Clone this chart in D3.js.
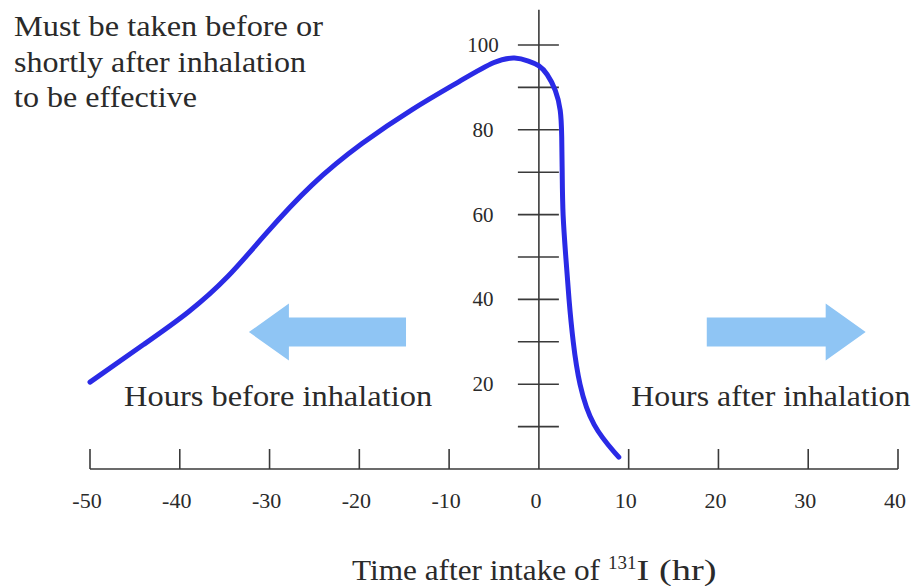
<!DOCTYPE html>
<html>
<head>
<meta charset="utf-8">
<script src="https://cdn.jsdelivr.net/npm/d3@7"></script>
<style>
    body { margin: 0; background: #fff; }
    svg { display: block; font-family: 'Liberation Serif', 'Times New Roman', serif; }
</style>
</head>
<body>
<svg id="chart"></svg>
<script>
// curve: hours after intake vs. effectiveness (%)
const hours = [-50, -43.8, -39, -34.5, -30.8, -25.3, -19.7, -14.1, -8.6, -4.8, -2.6, -1.1, 0, 0.9, 1.9, 2.45, 2.55, 2.6, 2.65, 3.0, 3.34, 3.79, 4.45, 5.9, 8.9]
const effect = [20.5, 29.7, 36.8, 45.3, 54.7, 67.5, 77, 85, 91.7, 96.5, 97.2, 96.2, 95.3, 93.4, 89.4, 84.7, 79.2, 69, 60, 50, 40, 30, 20, 10, 2.8]

const xTicks = [-50, -40, -30, -20, -10, 0, 10, 20, 30, 40]
const yMinor = [10, 30, 50, 70, 90]
const yMajor = [20, 40, 60, 80, 100]

const noteLines = ['Must be taken before or', 'shortly after inhalation', 'to be effective']
const noteWidths = [309, 292, 183]
const arrows = [
    { from: -14.8, to: -32.3, level: 32.3, label: 'Hours before inhalation', at: -46.2, len: 308 },
    { from: 18.7, to: 36.4, level: 32.3, label: 'Hours after inhalation', at: 10.3, len: 279 }
]

const width = 920, height = 586
const svg = d3.select('#chart').attr('width', width).attr('height', height)

const x = d3.scaleLinear().domain([-50, 40]).range([90, 898])
const y = d3.scaleLinear().domain([0, 100]).range([469, 45])

const axisColor = '#3a3a3a'
const textColor = '#2a2a2a'

// x axis: baseline with ticks pointing up
const xAxis = svg.append('g').attr('transform', `translate(0,${y(0)})`)
xAxis.append('line')
    .attr('x1', x(-50)).attr('x2', x(40))
    .attr('stroke', axisColor).attr('stroke-width', 1.6)
xAxis.selectAll('.xt').data(xTicks.filter(d => d !== 0)).enter().append('line')
    .attr('x1', d => x(d)).attr('x2', d => x(d))
    .attr('y1', 0).attr('y2', -20)
    .attr('stroke', axisColor).attr('stroke-width', 1.6)
xAxis.selectAll('text').data(xTicks).enter().append('text')
    .attr('x', d => x(d) - 3)
    .attr('y', 39)
    .attr('text-anchor', 'middle')
    .attr('font-size', 22)
    .attr('fill', textColor)
    .text(d => d)

// y axis: vertical line at hour 0 with ticks crossing it
const yAxis = svg.append('g').attr('transform', `translate(${x(0)},0)`)
yAxis.append('line')
    .attr('y1', y(0)).attr('y2', y(108.3))
    .attr('stroke', axisColor).attr('stroke-width', 1.6)
yAxis.selectAll('.yt').data(yMinor.concat(yMajor)).enter().append('line')
    .attr('x1', -21).attr('x2', 20)
    .attr('y1', d => y(d)).attr('y2', d => y(d))
    .attr('stroke', axisColor).attr('stroke-width', 1.6)
yAxis.selectAll('text').data(yMajor).enter().append('text')
    .attr('x', -56)
    .attr('y', d => y(d))
    .attr('dy', '0.33em')
    .attr('text-anchor', 'middle')
    .attr('font-size', 21)
    .attr('fill', textColor)
    .text(d => d)

// light blue direction arrows
const arrowPath = ({ from, to, level }) => {
    const dir = Math.sign(to - from)
    const tip = x(to), tail = x(from), cy = y(level)
    const base = tip - dir * 40
    const shaft = 14.5, head = 28.5
    return `M${tail},${cy - shaft} L${base},${cy - shaft} L${base},${cy - head} L${tip},${cy}
            L${base},${cy + head} L${base},${cy + shaft} L${tail},${cy + shaft} Z`
}
svg.selectAll('.arrow').data(arrows).enter().append('path')
    .attr('d', arrowPath)
    .attr('fill', '#8fc5f4')

svg.selectAll('.arrow-label').data(arrows).enter().append('text')
    .attr('x', d => x(d.at))
    .attr('y', 406)
    .attr('font-size', 30)
    .attr('textLength', d => d.len)
    .attr('lengthAdjust', 'spacingAndGlyphs')
    .attr('fill', textColor)
    .text(d => d.label)

// the curve, smoothed through the read-off points
const points = hours.map((h, i) => [h, effect[i]])
svg.append('path')
    .datum(points)
    .attr('fill', 'none')
    .attr('stroke', '#2a2ae6')
    .attr('stroke-width', 5)
    .attr('stroke-linecap', 'round')
    .attr('stroke-linejoin', 'round')
    .attr('d', d3.line()
        .x(d => x(d[0]))
        .y(d => y(d[1]))
        .curve(d3.curveBasis)
    )

// note in the top left corner
svg.append('g').selectAll('text').data(noteLines).enter().append('text')
    .attr('x', 14)
    .attr('y', (d, i) => 36 + i * 35.5)
    .attr('font-size', 29)
    .attr('textLength', (d, i) => noteWidths[i])
    .attr('lengthAdjust', 'spacingAndGlyphs')
    .attr('fill', textColor)
    .text(d => d)

// x axis title with superscript
const title = svg.append('text')
    .attr('x', 352)
    .attr('y', 580)
    .attr('font-size', 30)
    .attr('fill', textColor)
title.append('tspan').attr('textLength', 248).attr('lengthAdjust', 'spacingAndGlyphs').text('Time after intake of')
title.append('tspan').attr('font-size', 19).attr('dx', 8).attr('dy', -11).text('131')
title.append('tspan').attr('dy', 11).attr('textLength', 80).attr('lengthAdjust', 'spacingAndGlyphs').text('I (hr)')
</script>
</body>
</html>
